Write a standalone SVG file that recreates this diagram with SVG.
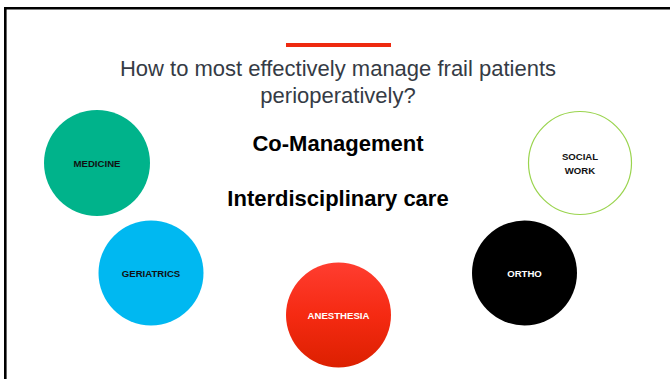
<svg xmlns="http://www.w3.org/2000/svg" width="670" height="379" viewBox="0 0 670 379">
<style>
.title{font-family:"Liberation Sans",Arial,sans-serif;font-size:22px;fill:#353b45;text-anchor:middle}
.big{font-family:"Liberation Sans",Arial,sans-serif;font-weight:bold;font-size:22px;fill:#000;text-anchor:middle}
.lbl{font-family:"Liberation Sans",Arial,sans-serif;font-weight:bold;font-size:9.6px;text-anchor:middle}
</style>
<defs>
<linearGradient id="redg" x1="0" y1="0" x2="0" y2="1">
<stop offset="0" stop-color="#ff3d30"/>
<stop offset="0.5" stop-color="#f52a12"/>
<stop offset="1" stop-color="#dc2000"/>
</linearGradient>
</defs>
<rect x="0" y="0" width="670" height="379" fill="#fff"/>
<path d="M5.3 379 V8.2 H670" fill="none" stroke="#000" stroke-width="2.6"/>
<rect x="286" y="43" width="105" height="4" fill="#ee2a10"/>
<text class="title" x="338" y="76">How to most effectively manage frail patients</text>
<text class="title" x="338" y="103">perioperatively?</text>
<text class="big" x="338" y="151">Co-Management</text>
<text class="big" x="338" y="206">Interdisciplinary care</text>
<g id="medicine">
<circle cx="97" cy="163" r="53" fill="#00b38b"/>
<text class="lbl" x="97" y="167" fill="#111">MEDICINE</text>
</g>
<g id="geriatrics">
<circle cx="151" cy="273" r="52.5" fill="#00b8f1"/>
<text class="lbl" x="151" y="277" fill="#111">GERIATRICS</text>
</g>
<g id="anesthesia">
<circle cx="338.5" cy="315" r="52.5" fill="url(#redg)"/>
<text class="lbl" x="338.5" y="319" fill="#fff">ANESTHESIA</text>
</g>
<g id="ortho">
<circle cx="524.5" cy="273" r="52.5" fill="#000"/>
<text class="lbl" x="524.5" y="277" fill="#fff">ORTHO</text>
</g>
<g id="social-work">
<circle cx="580" cy="163" r="51.5" fill="#fff" stroke="#9ad44e" stroke-width="1.2"/>
<text class="lbl" x="580" y="159.5" fill="#111">SOCIAL</text>
<text class="lbl" x="580" y="173.5" fill="#111">WORK</text>
</g>
<g id="connectors"/>
</svg>
